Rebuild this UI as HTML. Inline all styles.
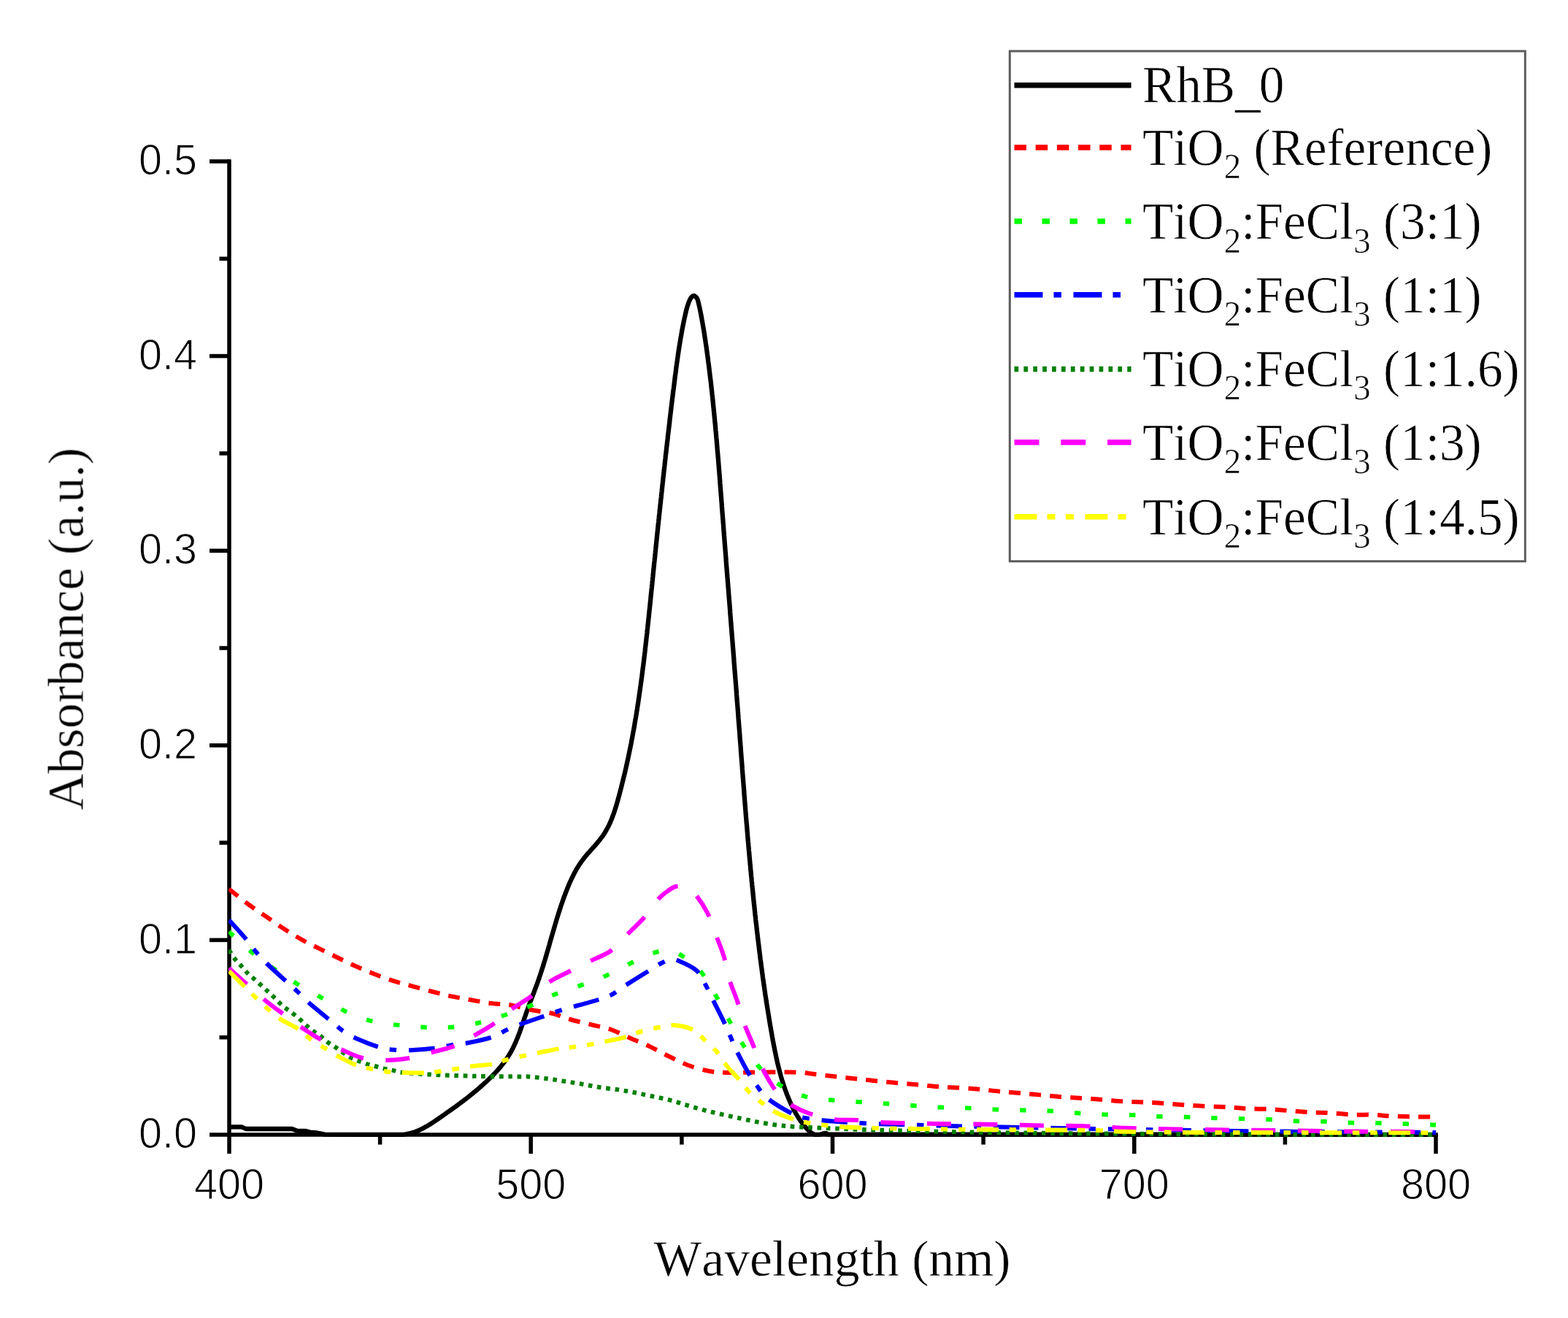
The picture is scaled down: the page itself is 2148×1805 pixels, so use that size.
<!DOCTYPE html>
<html lang="en"><head><meta charset="utf-8"><title>UV-Vis absorbance spectra</title>
<style>
html,body{margin:0;padding:0;background:#fff;}
body{width:2148px;height:1805px;overflow:hidden;}
svg{display:block;}
.sans{font-family:"Liberation Sans",Arial,Helvetica,sans-serif;}
.serif{font-family:"Liberation Serif","Times New Roman",Times,serif;font-kerning:none;}
text{font-kerning:none;text-rendering:geometricPrecision;}
</style></head><body>
<svg width="2148" height="1805" viewBox="0 0 2148 1805">
<defs><filter id="soft" x="-2%" y="-2%" width="104%" height="104%"><feGaussianBlur stdDeviation="0.75"/></filter>
<clipPath id="plot"><rect x="313.0" y="200" width="1655.5" height="1357.5"/></clipPath></defs>
<rect width="2148" height="1805" fill="#fff"/>
<g filter="url(#soft)">
<g stroke="#000" stroke-width="5.5" fill="none" stroke-linecap="butt">
<path d="M314.0,218.2 V1580.0"/>
<path d="M287.0,1554.0 H1969.8"/>
<path d="M300.5,1420.7 H314.0"/>
<path d="M287.0,1287.4 H314.0"/>
<path d="M300.5,1154.1 H314.0"/>
<path d="M287.0,1020.8 H314.0"/>
<path d="M300.5,887.5 H314.0"/>
<path d="M287.0,754.2 H314.0"/>
<path d="M300.5,620.9 H314.0"/>
<path d="M287.0,487.6 H314.0"/>
<path d="M300.5,354.3 H314.0"/>
<path d="M287.0,221.0 H314.0"/>
<path d="M520.6,1554.0 V1567.5"/>
<path d="M727.2,1554.0 V1580.0"/>
<path d="M933.9,1554.0 V1567.5"/>
<path d="M1140.5,1554.0 V1580.0"/>
<path d="M1347.1,1554.0 V1567.5"/>
<path d="M1553.8,1554.0 V1580.0"/>
<path d="M1760.4,1554.0 V1567.5"/>
<path d="M1967.0,1554.0 V1580.0"/>
</g>
<g fill="none" stroke-linejoin="round" clip-path="url(#plot)">
<path d="M314.0,1543.3 L331.0,1543.3 L337.0,1546.0 L400.0,1546.0 L407.0,1548.6 L419.0,1549.0 L425.0,1550.6 L432.0,1551.2 L445.0,1553.6 L500.0,1553.8 L548.0,1553.8 L547.9,1553.9 L550.5,1553.8 L553.0,1553.6 L555.6,1553.3 L558.0,1552.9 L560.5,1552.4 L562.9,1551.8 L565.3,1551.1 L567.6,1550.4 L570.0,1549.5 L572.2,1548.6 L574.5,1547.6 L576.7,1546.6 L579.0,1545.5 L581.2,1544.3 L583.3,1543.1 L585.5,1541.9 L587.6,1540.6 L589.8,1539.3 L591.9,1537.9 L594.0,1536.5 L596.1,1535.1 L598.2,1533.7 L600.2,1532.3 L602.3,1530.8 L604.4,1529.4 L606.4,1528.0 L608.5,1526.5 L610.6,1525.1 L612.6,1523.6 L614.7,1522.2 L616.7,1520.7 L618.7,1519.3 L620.8,1517.8 L622.8,1516.4 L624.8,1514.9 L626.8,1513.4 L628.8,1511.9 L630.8,1510.5 L632.8,1509.0 L634.8,1507.5 L636.8,1505.9 L638.8,1504.4 L640.7,1502.9 L642.7,1501.4 L644.6,1499.8 L646.6,1498.2 L648.5,1496.7 L650.4,1495.1 L652.4,1493.5 L654.3,1491.9 L656.2,1490.3 L658.0,1488.6 L659.9,1487.0 L661.8,1485.3 L663.6,1483.7 L665.5,1482.0 L667.3,1480.3 L669.1,1478.5 L670.9,1476.8 L672.7,1475.0 L674.5,1473.3 L676.2,1471.5 L678.0,1469.7 L679.7,1467.8 L681.4,1466.0 L683.0,1464.1 L684.7,1462.2 L686.3,1460.3 L687.8,1458.4 L689.4,1456.4 L690.9,1454.4 L692.3,1452.4 L693.8,1450.4 L695.1,1448.3 L696.5,1446.3 L697.8,1444.1 L699.0,1442.0 L700.3,1439.9 L701.4,1437.7 L702.6,1435.5 L703.7,1433.2 L704.7,1431.0 L705.8,1428.7 L706.8,1426.4 L707.7,1424.1 L708.7,1421.8 L709.6,1419.5 L710.5,1417.2 L711.4,1414.8 L712.3,1412.5 L713.1,1410.1 L714.0,1407.7 L714.8,1405.3 L715.6,1402.9 L716.4,1400.6 L717.2,1398.2 L718.0,1395.8 L718.8,1393.4 L719.7,1391.0 L720.5,1388.6 L721.3,1386.2 L722.1,1383.9 L723.0,1381.5 L723.8,1379.2 L724.7,1376.8 L725.6,1374.5 L726.4,1372.1 L727.3,1369.8 L728.2,1367.5 L729.1,1365.1 L730.0,1362.8 L730.9,1360.5 L731.8,1358.2 L732.6,1355.8 L733.5,1353.5 L734.4,1351.2 L735.2,1348.8 L736.1,1346.5 L736.9,1344.2 L737.7,1341.8 L738.6,1339.5 L739.4,1337.1 L740.2,1334.7 L740.9,1332.4 L741.7,1330.0 L742.5,1327.6 L743.2,1325.2 L744.0,1322.9 L744.7,1320.5 L745.4,1318.1 L746.2,1315.7 L746.9,1313.3 L747.6,1310.9 L748.3,1308.5 L749.0,1306.1 L749.7,1303.7 L750.4,1301.3 L751.1,1298.9 L751.8,1296.5 L752.5,1294.1 L753.1,1291.7 L753.8,1289.3 L754.5,1286.8 L755.2,1284.4 L755.9,1282.0 L756.6,1279.6 L757.3,1277.2 L758.0,1274.8 L758.7,1272.4 L759.4,1270.0 L760.1,1267.6 L760.8,1265.2 L761.5,1262.8 L762.2,1260.4 L762.9,1258.0 L763.7,1255.6 L764.4,1253.2 L765.2,1250.8 L765.9,1248.4 L766.7,1246.1 L767.5,1243.7 L768.2,1241.3 L769.0,1238.9 L769.9,1236.6 L770.7,1234.2 L771.5,1231.9 L772.3,1229.5 L773.2,1227.2 L774.1,1224.8 L775.0,1222.5 L775.9,1220.2 L776.8,1217.8 L777.7,1215.5 L778.7,1213.2 L779.6,1210.9 L780.6,1208.6 L781.7,1206.4 L782.7,1204.1 L783.8,1201.8 L784.9,1199.6 L786.0,1197.4 L787.1,1195.2 L788.3,1193.0 L789.5,1190.8 L790.8,1188.7 L792.1,1186.6 L793.4,1184.5 L794.8,1182.4 L796.2,1180.4 L797.7,1178.4 L799.2,1176.4 L800.7,1174.4 L802.3,1172.5 L803.9,1170.5 L805.5,1168.6 L807.2,1166.8 L808.9,1164.9 L810.6,1163.0 L812.2,1161.1 L813.9,1159.3 L815.6,1157.4 L817.2,1155.5 L818.8,1153.6 L820.4,1151.7 L822.0,1149.7 L823.5,1147.7 L825.0,1145.7 L826.4,1143.7 L827.8,1141.6 L829.1,1139.5 L830.3,1137.4 L831.5,1135.3 L832.7,1133.1 L833.8,1130.9 L834.9,1128.6 L835.9,1126.4 L836.9,1124.1 L837.8,1121.8 L838.7,1119.5 L839.6,1117.1 L840.5,1114.8 L841.3,1112.4 L842.1,1110.0 L842.9,1107.6 L843.6,1105.2 L844.4,1102.8 L845.1,1100.4 L845.8,1097.9 L846.5,1095.5 L847.1,1093.1 L847.8,1090.6 L848.5,1088.2 L849.1,1085.8 L849.7,1083.3 L850.4,1080.9 L851.0,1078.5 L851.6,1076.0 L852.2,1073.6 L852.8,1071.1 L853.4,1068.7 L854.0,1066.3 L854.6,1063.8 L855.2,1061.4 L855.8,1059.0 L856.4,1056.5 L856.9,1054.1 L857.5,1051.7 L858.0,1049.2 L858.6,1046.8 L859.1,1044.4 L859.6,1041.9 L860.2,1039.5 L860.7,1037.0 L861.2,1034.6 L861.7,1032.2 L862.2,1029.7 L862.7,1027.3 L863.2,1024.8 L863.7,1022.4 L864.2,1020.0 L864.7,1017.5 L865.1,1015.1 L865.6,1012.6 L866.1,1010.2 L866.5,1007.7 L867.0,1005.3 L867.4,1002.8 L867.9,1000.4 L868.3,997.9 L868.8,995.5 L869.2,993.0 L869.6,990.5 L870.0,988.1 L870.4,985.6 L870.9,983.2 L871.3,980.7 L871.7,978.2 L872.1,975.8 L872.5,973.3 L872.9,970.9 L873.2,968.4 L873.6,965.9 L874.0,963.5 L874.4,961.0 L874.7,958.5 L875.1,956.0 L875.5,953.6 L875.8,951.1 L876.2,948.6 L876.5,946.2 L876.9,943.7 L877.2,941.2 L877.6,938.7 L877.9,936.3 L878.3,933.8 L878.6,931.3 L878.9,928.8 L879.3,926.4 L879.6,923.9 L879.9,921.4 L880.2,918.9 L880.5,916.5 L880.8,914.0 L881.2,911.5 L881.5,909.0 L881.8,906.5 L882.1,904.1 L882.4,901.6 L882.7,899.1 L883.0,896.6 L883.3,894.1 L883.6,891.6 L883.8,889.2 L884.1,886.7 L884.4,884.2 L884.7,881.7 L885.0,879.2 L885.3,876.7 L885.5,874.2 L885.8,871.8 L886.1,869.3 L886.4,866.8 L886.6,864.3 L886.9,861.8 L887.2,859.3 L887.4,856.8 L887.7,854.3 L888.0,851.9 L888.2,849.4 L888.5,846.9 L888.8,844.4 L889.0,841.9 L889.3,839.4 L889.5,836.9 L889.8,834.4 L890.1,832.0 L890.3,829.5 L890.6,827.0 L890.8,824.5 L891.1,822.0 L891.3,819.5 L891.6,817.0 L891.8,814.5 L892.1,812.0 L892.3,809.6 L892.6,807.1 L892.9,804.6 L893.1,802.1 L893.4,799.6 L893.6,797.1 L893.9,794.6 L894.1,792.1 L894.4,789.6 L894.6,787.2 L894.9,784.7 L895.1,782.2 L895.4,779.7 L895.6,777.2 L895.9,774.7 L896.1,772.2 L896.4,769.7 L896.7,767.3 L896.9,764.8 L897.2,762.3 L897.4,759.8 L897.7,757.3 L897.9,754.8 L898.2,752.3 L898.4,749.9 L898.7,747.4 L899.0,744.9 L899.2,742.4 L899.5,739.9 L899.7,737.4 L900.0,734.9 L900.2,732.5 L900.5,730.0 L900.8,727.5 L901.0,725.0 L901.3,722.5 L901.5,720.0 L901.8,717.5 L902.1,715.1 L902.3,712.6 L902.6,710.1 L902.8,707.6 L903.1,705.1 L903.4,702.6 L903.6,700.2 L903.9,697.7 L904.2,695.2 L904.4,692.7 L904.7,690.2 L905.0,687.7 L905.2,685.2 L905.5,682.8 L905.8,680.3 L906.0,677.8 L906.3,675.3 L906.6,672.8 L906.8,670.3 L907.1,667.9 L907.4,665.4 L907.6,662.9 L907.9,660.4 L908.2,657.9 L908.4,655.5 L908.7,653.0 L909.0,650.5 L909.3,648.0 L909.5,645.5 L909.8,643.0 L910.1,640.6 L910.4,638.1 L910.6,635.6 L910.9,633.1 L911.2,630.6 L911.5,628.1 L911.7,625.7 L912.0,623.2 L912.3,620.7 L912.6,618.2 L912.9,615.7 L913.1,613.3 L913.4,610.8 L913.7,608.3 L914.0,605.8 L914.3,603.3 L914.6,600.8 L914.8,598.4 L915.1,595.9 L915.4,593.4 L915.7,590.9 L916.0,588.4 L916.3,586.0 L916.6,583.5 L916.9,581.0 L917.2,578.5 L917.4,576.0 L917.7,573.6 L918.0,571.1 L918.3,568.6 L918.6,566.1 L918.9,563.6 L919.2,561.1 L919.5,558.7 L919.8,556.2 L920.1,553.7 L920.4,551.2 L920.7,548.7 L921.0,546.3 L921.3,543.8 L921.6,541.3 L921.9,538.8 L922.2,536.3 L922.5,533.9 L922.9,531.4 L923.2,528.9 L923.5,526.4 L923.8,523.9 L924.1,521.5 L924.4,519.0 L924.7,516.5 L925.0,514.0 L925.4,511.5 L925.7,509.1 L926.0,506.6 L926.3,504.1 L926.7,501.6 L927.0,499.1 L927.3,496.7 L927.7,494.2 L928.0,491.7 L928.4,489.2 L928.7,486.8 L929.1,484.3 L929.5,481.8 L929.8,479.3 L930.2,476.9 L930.6,474.4 L931.0,471.9 L931.4,469.5 L931.8,467.0 L932.2,464.5 L932.6,462.1 L933.1,459.6 L933.5,457.2 L933.9,454.7 L934.4,452.2 L934.8,449.8 L935.3,447.3 L935.8,444.9 L936.3,442.4 L936.8,440.0 L937.3,437.5 L937.8,435.1 L938.4,432.7 L938.9,430.2 L939.5,427.8 L940.0,425.4 L940.7,422.9 L941.3,420.5 L942.1,418.2 L942.9,415.8 L943.7,413.5 L944.7,411.2 L945.9,408.9 L947.5,406.7 L949.4,405.1 L951.4,405.1 L953.4,406.7 L955.0,408.9 L956.0,411.3 L956.6,413.7 L957.2,416.1 L957.7,418.5 L958.3,421.0 L958.8,423.4 L959.3,425.8 L959.8,428.3 L960.3,430.7 L960.7,433.2 L961.2,435.6 L961.6,438.1 L962.1,440.6 L962.5,443.0 L962.9,445.5 L963.4,448.0 L963.8,450.4 L964.2,452.9 L964.6,455.4 L965.0,457.8 L965.3,460.3 L965.7,462.8 L966.1,465.2 L966.5,467.7 L966.8,470.2 L967.2,472.6 L967.6,475.1 L967.9,477.6 L968.2,480.1 L968.6,482.5 L968.9,485.0 L969.3,487.5 L969.6,490.0 L969.9,492.5 L970.2,494.9 L970.6,497.4 L970.9,499.9 L971.2,502.4 L971.5,504.8 L971.8,507.3 L972.1,509.8 L972.4,512.3 L972.7,514.8 L973.0,517.3 L973.3,519.7 L973.6,522.2 L973.9,524.7 L974.2,527.2 L974.4,529.7 L974.7,532.1 L975.0,534.6 L975.3,537.1 L975.5,539.6 L975.8,542.1 L976.1,544.6 L976.3,547.0 L976.6,549.5 L976.8,552.0 L977.1,554.5 L977.3,557.0 L977.6,559.5 L977.8,562.0 L978.1,564.4 L978.3,566.9 L978.6,569.4 L978.8,571.9 L979.1,574.4 L979.3,576.9 L979.5,579.4 L979.8,581.9 L980.0,584.3 L980.2,586.8 L980.4,589.3 L980.7,591.8 L980.9,594.3 L981.1,596.8 L981.3,599.3 L981.6,601.8 L981.8,604.2 L982.0,606.7 L982.2,609.2 L982.4,611.7 L982.6,614.2 L982.8,616.7 L983.0,619.2 L983.3,621.7 L983.5,624.2 L983.7,626.7 L983.9,629.1 L984.1,631.6 L984.3,634.1 L984.5,636.6 L984.7,639.1 L984.9,641.6 L985.1,644.1 L985.3,646.6 L985.5,649.1 L985.7,651.6 L985.9,654.1 L986.1,656.6 L986.3,659.0 L986.4,661.5 L986.6,664.0 L986.8,666.5 L987.0,669.0 L987.2,671.5 L987.4,674.0 L987.6,676.5 L987.8,679.0 L988.0,681.5 L988.2,684.0 L988.4,686.5 L988.6,688.9 L988.8,691.4 L988.9,693.9 L989.1,696.4 L989.3,698.9 L989.5,701.4 L989.7,703.9 L989.9,706.4 L990.1,708.9 L990.3,711.4 L990.5,713.9 L990.7,716.4 L990.9,718.8 L991.1,721.3 L991.2,723.8 L991.4,726.3 L991.6,728.8 L991.8,731.3 L992.0,733.8 L992.2,736.3 L992.4,738.8 L992.6,741.3 L992.8,743.8 L993.0,746.3 L993.2,748.7 L993.4,751.2 L993.6,753.7 L993.8,756.2 L994.0,758.7 L994.2,761.2 L994.4,763.7 L994.6,766.2 L994.7,768.7 L994.9,771.2 L995.1,773.7 L995.3,776.2 L995.5,778.6 L995.7,781.1 L995.9,783.6 L996.1,786.1 L996.3,788.6 L996.5,791.1 L996.7,793.6 L996.9,796.1 L997.1,798.6 L997.3,801.1 L997.5,803.6 L997.7,806.0 L997.9,808.5 L998.1,811.0 L998.3,813.5 L998.5,816.0 L998.7,818.5 L998.9,821.0 L999.1,823.5 L999.3,826.0 L999.5,828.5 L999.7,831.0 L999.9,833.4 L1000.1,835.9 L1000.2,838.4 L1000.4,840.9 L1000.6,843.4 L1000.8,845.9 L1001.0,848.4 L1001.2,850.9 L1001.4,853.4 L1001.6,855.9 L1001.8,858.4 L1002.0,860.9 L1002.2,863.3 L1002.4,865.8 L1002.6,868.3 L1002.8,870.8 L1003.0,873.3 L1003.2,875.8 L1003.4,878.3 L1003.6,880.8 L1003.8,883.3 L1004.0,885.8 L1004.2,888.3 L1004.4,890.7 L1004.6,893.2 L1004.8,895.7 L1005.0,898.2 L1005.2,900.7 L1005.4,903.2 L1005.5,905.7 L1005.7,908.2 L1005.9,910.7 L1006.1,913.2 L1006.3,915.7 L1006.5,918.1 L1006.7,920.6 L1006.9,923.1 L1007.1,925.6 L1007.3,928.1 L1007.5,930.6 L1007.7,933.1 L1007.9,935.6 L1008.1,938.1 L1008.3,940.6 L1008.5,943.1 L1008.7,945.6 L1008.9,948.0 L1009.0,950.5 L1009.2,953.0 L1009.4,955.5 L1009.6,958.0 L1009.8,960.5 L1010.0,963.0 L1010.2,965.5 L1010.4,968.0 L1010.6,970.5 L1010.8,973.0 L1011.0,975.5 L1011.2,977.9 L1011.4,980.4 L1011.5,982.9 L1011.7,985.4 L1011.9,987.9 L1012.1,990.4 L1012.3,992.9 L1012.5,995.4 L1012.7,997.9 L1012.9,1000.4 L1013.1,1002.9 L1013.3,1005.4 L1013.4,1007.8 L1013.6,1010.3 L1013.8,1012.8 L1014.0,1015.3 L1014.2,1017.8 L1014.4,1020.3 L1014.6,1022.8 L1014.8,1025.3 L1014.9,1027.8 L1015.1,1030.3 L1015.3,1032.8 L1015.5,1035.3 L1015.7,1037.8 L1015.9,1040.2 L1016.1,1042.7 L1016.3,1045.2 L1016.5,1047.7 L1016.7,1050.2 L1016.8,1052.7 L1017.0,1055.2 L1017.2,1057.7 L1017.4,1060.2 L1017.6,1062.7 L1017.8,1065.2 L1018.0,1067.7 L1018.2,1070.2 L1018.4,1072.6 L1018.6,1075.1 L1018.8,1077.6 L1019.0,1080.1 L1019.2,1082.6 L1019.3,1085.1 L1019.5,1087.6 L1019.7,1090.1 L1019.9,1092.6 L1020.1,1095.1 L1020.3,1097.6 L1020.5,1100.0 L1020.7,1102.5 L1020.9,1105.0 L1021.1,1107.5 L1021.3,1110.0 L1021.5,1112.5 L1021.7,1115.0 L1021.9,1117.5 L1022.1,1120.0 L1022.3,1122.5 L1022.5,1125.0 L1022.7,1127.4 L1023.0,1129.9 L1023.2,1132.4 L1023.4,1134.9 L1023.6,1137.4 L1023.8,1139.9 L1024.0,1142.4 L1024.2,1144.9 L1024.4,1147.4 L1024.6,1149.9 L1024.8,1152.3 L1025.1,1154.8 L1025.3,1157.3 L1025.5,1159.8 L1025.7,1162.3 L1025.9,1164.8 L1026.2,1167.3 L1026.4,1169.8 L1026.6,1172.3 L1026.8,1174.8 L1027.0,1177.2 L1027.3,1179.7 L1027.5,1182.2 L1027.7,1184.7 L1028.0,1187.2 L1028.2,1189.7 L1028.4,1192.2 L1028.7,1194.7 L1028.9,1197.1 L1029.1,1199.6 L1029.4,1202.1 L1029.6,1204.6 L1029.8,1207.1 L1030.1,1209.6 L1030.3,1212.1 L1030.6,1214.6 L1030.8,1217.0 L1031.1,1219.5 L1031.3,1222.0 L1031.6,1224.5 L1031.8,1227.0 L1032.1,1229.5 L1032.3,1232.0 L1032.6,1234.4 L1032.8,1236.9 L1033.1,1239.4 L1033.4,1241.9 L1033.6,1244.4 L1033.9,1246.9 L1034.2,1249.4 L1034.4,1251.8 L1034.7,1254.3 L1035.0,1256.8 L1035.2,1259.3 L1035.5,1261.8 L1035.8,1264.3 L1036.1,1266.7 L1036.4,1269.2 L1036.6,1271.7 L1036.9,1274.2 L1037.2,1276.7 L1037.5,1279.2 L1037.8,1281.6 L1038.1,1284.1 L1038.4,1286.6 L1038.7,1289.1 L1039.0,1291.6 L1039.3,1294.0 L1039.6,1296.5 L1039.9,1299.0 L1040.2,1301.5 L1040.5,1304.0 L1040.8,1306.4 L1041.1,1308.9 L1041.4,1311.4 L1041.7,1313.9 L1042.1,1316.4 L1042.4,1318.8 L1042.7,1321.3 L1043.0,1323.8 L1043.4,1326.3 L1043.7,1328.7 L1044.0,1331.2 L1044.4,1333.7 L1044.7,1336.2 L1045.0,1338.7 L1045.4,1341.1 L1045.7,1343.6 L1046.1,1346.1 L1046.4,1348.6 L1046.8,1351.0 L1047.2,1353.5 L1047.5,1356.0 L1047.9,1358.5 L1048.2,1360.9 L1048.6,1363.4 L1049.0,1365.9 L1049.4,1368.3 L1049.7,1370.8 L1050.1,1373.3 L1050.5,1375.7 L1050.9,1378.2 L1051.3,1380.7 L1051.7,1383.2 L1052.1,1385.6 L1052.5,1388.1 L1052.9,1390.6 L1053.3,1393.0 L1053.7,1395.5 L1054.1,1398.0 L1054.5,1400.4 L1054.9,1402.9 L1055.3,1405.4 L1055.8,1407.8 L1056.2,1410.3 L1056.6,1412.7 L1057.1,1415.2 L1057.5,1417.7 L1057.9,1420.1 L1058.4,1422.6 L1058.8,1425.1 L1059.3,1427.5 L1059.7,1430.0 L1060.2,1432.4 L1060.7,1434.9 L1061.2,1437.3 L1061.7,1439.8 L1062.2,1442.2 L1062.7,1444.7 L1063.2,1447.1 L1063.7,1449.6 L1064.3,1452.0 L1064.8,1454.4 L1065.4,1456.9 L1066.0,1459.3 L1066.5,1461.7 L1067.2,1464.1 L1067.8,1466.5 L1068.4,1468.9 L1069.1,1471.4 L1069.7,1473.8 L1070.4,1476.2 L1071.1,1478.5 L1071.9,1480.9 L1072.6,1483.3 L1073.4,1485.7 L1074.2,1488.0 L1075.0,1490.4 L1075.8,1492.8 L1076.7,1495.1 L1077.5,1497.5 L1078.4,1499.8 L1079.4,1502.1 L1080.3,1504.4 L1081.3,1506.8 L1082.3,1509.1 L1083.3,1511.4 L1084.4,1513.6 L1085.5,1515.9 L1086.6,1518.2 L1087.8,1520.4 L1089.0,1522.6 L1090.2,1524.8 L1091.5,1527.0 L1092.8,1529.1 L1094.1,1531.2 L1095.5,1533.3 L1096.9,1535.4 L1098.4,1537.4 L1099.9,1539.3 L1101.5,1541.3 L1103.1,1543.2 L1104.7,1545.1 L1106.4,1546.9 L1108.2,1548.6 L1110.0,1550.3 L1111.9,1551.8 L1114.0,1553.0 L1116.2,1553.9 L1118.7,1553.9 L1121.3,1553.9 L1124.2,1553.5 L1127.2,1552.6 L1130.0,1552.0 L1132.4,1552.2 L1134.0,1553.7 L1967.0,1553.8" stroke="#000" stroke-width="6.3"/>
<path d="M313.7,1217.5 C318.2,1221.1 332.4,1232.7 341.0,1239.0 C349.6,1245.3 357.0,1250.1 365.0,1255.6 C373.0,1261.1 381.0,1266.8 389.0,1272.0 C397.0,1277.2 404.8,1282.0 413.0,1286.6 C421.2,1291.2 429.6,1295.2 438.0,1299.4 C446.4,1303.6 455.3,1308.0 463.6,1312.0 C471.9,1316.0 479.8,1319.9 488.0,1323.6 C496.2,1327.3 504.5,1330.7 513.0,1334.0 C521.5,1337.3 530.5,1340.7 539.0,1343.4 C547.5,1346.1 555.2,1348.0 564.0,1350.4 C572.8,1352.8 583.0,1355.7 592.0,1358.0 C601.0,1360.3 609.5,1362.6 618.0,1364.4 C626.5,1366.2 634.0,1367.4 643.0,1369.0 C652.0,1370.6 662.5,1372.8 672.0,1374.0 C681.5,1375.2 690.3,1374.9 700.0,1376.5 C709.7,1378.1 720.5,1381.6 730.0,1383.5 C739.5,1385.4 748.5,1385.9 757.0,1388.0 C765.5,1390.1 772.3,1393.5 781.0,1396.0 C789.7,1398.5 799.7,1400.7 809.0,1403.0 C818.3,1405.3 827.8,1406.8 837.0,1410.0 C846.2,1413.2 855.0,1418.1 864.0,1422.0 C873.0,1425.9 882.2,1429.4 891.0,1433.6 C899.8,1437.8 908.3,1442.8 917.0,1447.0 C925.7,1451.2 933.8,1455.7 943.0,1459.0 C952.2,1462.3 962.8,1465.3 972.0,1467.0 C981.2,1468.7 988.3,1468.7 998.0,1469.0 C1007.7,1469.3 1014.9,1468.7 1030.0,1468.6 C1045.1,1468.5 1074.2,1468.0 1088.8,1468.4 C1103.3,1468.8 1107.8,1470.2 1117.3,1471.2 C1126.8,1472.2 1136.4,1473.5 1145.7,1474.5 C1155.0,1475.5 1163.8,1476.4 1173.1,1477.4 C1182.3,1478.4 1191.7,1479.4 1201.2,1480.4 C1210.7,1481.4 1220.5,1482.5 1230.1,1483.3 C1239.7,1484.1 1249.3,1484.7 1258.6,1485.5 C1267.9,1486.3 1276.5,1487.6 1286.0,1488.3 C1295.5,1489.0 1305.9,1489.3 1315.6,1489.9 C1325.3,1490.5 1335.1,1491.2 1344.1,1492.0 C1353.1,1492.8 1360.8,1493.9 1369.7,1494.7 C1378.7,1495.5 1388.3,1496.3 1397.8,1497.1 C1407.3,1497.9 1417.2,1498.8 1426.9,1499.7 C1436.6,1500.6 1446.2,1501.6 1455.8,1502.3 C1465.4,1503.0 1474.8,1503.4 1484.3,1504.1 C1493.8,1504.8 1503.4,1505.6 1512.8,1506.3 C1522.2,1507.0 1531.6,1508.0 1540.8,1508.5 C1550.0,1509.0 1558.5,1509.2 1567.8,1509.6 C1577.1,1510.0 1587.1,1510.4 1596.7,1511.1 C1606.3,1511.8 1615.5,1512.8 1625.2,1513.5 C1634.9,1514.2 1645.1,1514.6 1654.8,1515.1 C1664.5,1515.5 1674.3,1515.7 1683.3,1516.2 C1692.3,1516.7 1699.7,1517.8 1708.9,1518.3 C1718.1,1518.8 1729.1,1518.5 1738.7,1519.0 C1748.3,1519.5 1757.1,1520.5 1766.5,1521.2 C1775.9,1521.9 1785.6,1522.7 1795.0,1523.2 C1804.4,1523.7 1813.5,1523.8 1823.1,1524.3 C1832.7,1524.8 1843.0,1526.1 1852.7,1526.5 C1862.5,1526.9 1872.6,1526.4 1881.6,1526.7 C1890.6,1527.0 1897.6,1528.2 1906.8,1528.6 C1916.0,1529.0 1927.0,1529.1 1937.0,1529.3 C1947.0,1529.5 1962.0,1529.5 1967.0,1529.5" stroke="#f00" stroke-width="6.0" stroke-dasharray="15.9 12.2"/>
<path d="M313.7,1276.0 C319.1,1280.8 335.4,1296.3 346.0,1305.0 C356.6,1313.7 366.7,1320.8 377.0,1328.0 C387.3,1335.2 396.8,1341.3 408.0,1348.0 C419.2,1354.7 432.7,1362.0 444.0,1368.4 C455.3,1374.8 465.2,1381.4 476.0,1386.4 C486.8,1391.4 497.2,1395.5 509.0,1398.4 C520.8,1401.3 534.3,1402.6 547.0,1404.0 C559.7,1405.4 572.5,1406.6 585.0,1407.0 C597.5,1407.4 609.7,1407.6 622.0,1406.4 C634.3,1405.2 647.3,1402.7 659.0,1400.0 C670.7,1397.3 681.0,1393.7 692.0,1390.0 C703.0,1386.3 714.2,1382.5 725.0,1378.0 C735.8,1373.5 746.2,1367.4 757.0,1363.0 C767.8,1358.6 778.8,1355.4 790.0,1351.4 C801.2,1347.4 812.8,1343.8 824.0,1339.0 C835.2,1334.2 846.0,1327.9 857.0,1322.6 C868.0,1317.3 881.2,1310.4 890.0,1307.0 C898.8,1303.6 903.8,1302.4 910.0,1302.0 C916.2,1301.6 919.2,1300.4 927.0,1304.6 C934.8,1308.8 948.5,1317.9 957.0,1327.0 C965.5,1336.1 971.3,1347.8 978.0,1359.0 C984.7,1370.2 990.7,1382.7 997.0,1394.0 C1003.3,1405.3 1008.9,1416.3 1015.6,1427.0 C1022.3,1437.7 1028.6,1448.4 1037.0,1458.0 C1045.4,1467.6 1055.7,1477.3 1066.0,1484.4 C1076.3,1491.5 1086.9,1496.8 1098.6,1500.4 C1110.3,1504.1 1123.7,1504.9 1136.3,1506.3 C1148.9,1507.7 1161.7,1508.1 1174.2,1508.9 C1186.7,1509.7 1198.9,1510.5 1211.5,1511.3 C1224.1,1512.1 1237.1,1513.1 1249.8,1514.0 C1262.5,1514.9 1275.1,1516.0 1287.8,1516.6 C1300.5,1517.2 1313.2,1517.0 1325.9,1517.5 C1338.6,1518.0 1351.1,1518.9 1363.8,1519.4 C1376.5,1519.9 1389.6,1520.1 1402.2,1520.5 C1414.8,1520.9 1426.8,1520.9 1439.4,1521.6 C1452.0,1522.3 1465.2,1523.7 1477.8,1524.5 C1490.4,1525.3 1502.5,1526.1 1515.0,1526.5 C1527.5,1526.9 1541.1,1526.7 1552.9,1527.1 C1564.7,1527.5 1573.9,1528.5 1585.7,1528.9 C1597.5,1529.3 1611.5,1529.4 1623.7,1529.7 C1636.0,1530.0 1647.0,1530.6 1659.2,1531.0 C1671.4,1531.4 1684.3,1531.8 1697.1,1532.1 C1709.9,1532.4 1723.2,1532.5 1735.9,1533.0 C1748.6,1533.5 1760.6,1534.7 1773.1,1535.2 C1785.6,1535.7 1798.3,1535.4 1811.0,1535.8 C1823.7,1536.2 1836.6,1537.1 1849.4,1537.5 C1862.2,1537.9 1875.0,1537.8 1887.7,1538.1 C1900.4,1538.3 1912.2,1538.6 1925.4,1539.0 C1938.6,1539.4 1960.1,1540.4 1967.0,1540.7" stroke="#0f0" stroke-width="6.0" stroke-dasharray="8.5 29"/>
<path d="M313.7,1260.0 C317.6,1264.3 330.8,1278.7 337.0,1286.0 C343.2,1293.3 346.2,1298.3 351.0,1304.0 C355.8,1309.7 359.2,1313.3 366.0,1320.0 C372.8,1326.7 385.0,1337.6 392.0,1344.0 C399.0,1350.4 402.7,1353.4 408.0,1358.4 C413.3,1363.4 416.5,1367.4 424.0,1374.0 C431.5,1380.6 445.3,1391.7 453.0,1398.0 C460.7,1404.3 463.8,1407.8 470.0,1412.0 C476.2,1416.2 481.3,1419.2 490.0,1423.0 C498.7,1426.8 513.2,1432.5 522.0,1435.0 C530.8,1437.5 535.7,1437.5 543.0,1438.0 C550.3,1438.5 556.5,1438.5 566.0,1438.0 C575.5,1437.5 590.3,1436.3 600.0,1435.0 C609.7,1433.7 617.0,1431.2 624.0,1430.0 C631.0,1428.8 633.5,1429.7 642.0,1428.0 C650.5,1426.3 666.2,1423.0 675.0,1420.0 C683.8,1417.0 687.8,1413.2 695.0,1410.0 C702.2,1406.8 708.8,1404.3 718.0,1401.0 C727.2,1397.7 741.3,1393.0 750.0,1390.0 C758.7,1387.0 763.7,1385.0 770.0,1383.0 C776.3,1381.0 779.7,1380.3 788.0,1378.0 C796.3,1375.7 811.7,1371.6 820.0,1369.0 C828.3,1366.4 831.6,1365.6 837.6,1362.4 C843.6,1359.2 847.6,1355.4 856.0,1350.0 C864.4,1344.6 879.7,1335.2 888.0,1330.0 C896.3,1324.8 901.0,1321.7 906.0,1319.0 C911.0,1316.3 914.0,1314.5 918.0,1314.0 C922.0,1313.5 924.0,1313.5 930.0,1316.0 C936.0,1318.5 948.1,1323.8 954.0,1329.0 C959.9,1334.2 961.9,1340.5 965.6,1347.0 C969.3,1353.5 971.6,1359.2 976.0,1368.0 C980.4,1376.8 987.9,1391.5 992.0,1400.0 C996.1,1408.5 997.6,1412.5 1000.4,1419.0 C1003.2,1425.5 1004.9,1430.7 1009.0,1439.0 C1013.1,1447.3 1020.3,1461.0 1025.0,1469.0 C1029.7,1477.0 1032.7,1481.2 1037.0,1487.0 C1041.3,1492.8 1043.3,1497.8 1051.0,1504.0 C1058.7,1510.2 1074.5,1519.5 1083.0,1524.0 C1091.5,1528.5 1092.5,1529.1 1102.0,1531.0 C1111.5,1532.9 1123.7,1534.2 1140.0,1535.5 C1156.3,1536.8 1173.3,1537.9 1200.0,1539.0 C1226.7,1540.1 1266.7,1541.2 1300.0,1542.0 C1333.3,1542.8 1366.7,1543.3 1400.0,1544.0 C1433.3,1544.7 1466.7,1545.4 1500.0,1546.0 C1533.3,1546.6 1566.7,1547.0 1600.0,1547.5 C1633.3,1548.0 1666.7,1548.6 1700.0,1549.0 C1733.3,1549.4 1766.7,1549.8 1800.0,1550.0 C1833.3,1550.2 1872.2,1550.3 1900.0,1550.5 C1927.8,1550.7 1955.8,1550.9 1967.0,1551.0" stroke="#00f" stroke-width="6.0" stroke-dasharray="35.5 16.5 9.5 17"/>
<path d="M313.7,1301.0 C315.1,1303.1 319.1,1309.9 322.0,1313.6 C324.9,1317.3 328.0,1320.1 331.0,1323.4 C334.0,1326.7 336.9,1330.5 340.0,1333.6 C343.1,1336.7 346.3,1339.0 349.6,1342.0 C352.9,1345.0 356.7,1348.4 360.0,1351.4 C363.3,1354.4 366.3,1357.1 369.4,1360.0 C372.5,1362.9 375.6,1366.0 378.6,1369.0 C381.6,1372.0 384.5,1375.3 387.6,1378.0 C390.7,1380.7 394.0,1382.4 397.4,1385.0 C400.8,1387.6 404.6,1390.5 408.0,1393.4 C411.4,1396.3 414.4,1399.5 417.6,1402.4 C420.8,1405.3 423.6,1408.0 427.0,1410.6 C430.4,1413.2 434.6,1415.4 438.0,1418.0 C441.4,1420.6 444.2,1423.8 447.6,1426.4 C451.0,1429.0 455.0,1431.2 458.6,1433.6 C462.2,1436.0 465.4,1438.6 469.0,1441.0 C472.6,1443.4 476.5,1446.1 480.0,1448.0 C483.5,1449.9 486.4,1450.9 490.0,1452.4 C493.6,1453.9 497.7,1455.7 501.6,1457.0 C505.5,1458.3 509.6,1458.9 513.6,1460.0 C517.6,1461.1 521.6,1462.5 525.6,1463.4 C529.6,1464.3 533.7,1464.8 537.6,1465.6 C541.5,1466.4 540.8,1467.4 549.0,1468.4 C557.2,1469.4 570.0,1470.5 587.0,1471.4 C604.0,1472.3 630.2,1473.3 651.0,1473.8 C671.8,1474.3 699.4,1474.3 711.6,1474.4 C723.8,1474.5 717.9,1474.1 724.0,1474.5 C730.1,1474.9 740.0,1476.0 748.0,1477.0 C756.0,1478.0 763.8,1479.3 772.0,1480.6 C780.2,1481.9 788.8,1483.2 797.0,1484.6 C805.2,1486.0 812.7,1487.7 821.0,1489.0 C829.3,1490.3 839.2,1491.2 847.0,1492.4 C854.8,1493.6 860.5,1494.6 868.0,1496.0 C875.5,1497.4 883.8,1499.3 892.0,1501.0 C900.2,1502.7 908.8,1504.3 917.0,1506.4 C925.2,1508.5 933.0,1511.3 941.0,1513.6 C949.0,1515.9 956.8,1518.3 965.0,1520.4 C973.2,1522.5 981.5,1524.5 990.0,1526.4 C998.5,1528.3 1007.7,1530.2 1016.0,1532.0 C1024.3,1533.8 1031.7,1535.5 1040.0,1537.0 C1048.3,1538.5 1057.7,1540.0 1066.0,1541.0 C1074.3,1542.0 1081.3,1542.4 1090.0,1543.0 C1098.7,1543.6 1099.7,1543.8 1118.0,1544.5 C1136.3,1545.2 1169.7,1546.6 1200.0,1547.5 C1230.3,1548.4 1266.7,1549.3 1300.0,1550.0 C1333.3,1550.7 1366.7,1551.1 1400.0,1551.5 C1433.3,1551.9 1450.0,1552.2 1500.0,1552.5 C1550.0,1552.8 1622.2,1553.2 1700.0,1553.5 C1777.8,1553.8 1922.5,1553.9 1967.0,1554.0" stroke="#008000" stroke-width="6.0" stroke-dasharray="5.6 6.7"/>
<path d="M313.7,1326.0 C317.4,1329.3 327.9,1338.8 336.0,1346.0 C344.1,1353.2 353.5,1362.0 362.0,1369.0 C370.5,1376.0 378.5,1381.7 387.0,1388.0 C395.5,1394.3 404.2,1401.0 413.0,1407.0 C421.8,1413.0 430.7,1418.8 440.0,1424.0 C449.3,1429.2 459.5,1433.8 469.0,1438.0 C478.5,1442.2 487.0,1446.7 497.0,1449.0 C507.0,1451.3 518.3,1452.0 529.0,1452.0 C539.7,1452.0 550.5,1450.8 561.0,1449.0 C571.5,1447.2 581.5,1443.8 592.0,1441.0 C602.5,1438.2 614.7,1435.7 624.0,1432.0 C633.3,1428.3 639.5,1423.8 648.0,1419.0 C656.5,1414.2 666.2,1409.2 675.0,1403.0 C683.8,1396.8 692.3,1388.3 701.0,1382.0 C709.7,1375.7 718.5,1371.2 727.0,1365.0 C735.5,1358.8 742.7,1351.0 752.0,1345.0 C761.3,1339.0 773.5,1333.8 783.0,1329.0 C792.5,1324.2 800.0,1320.5 809.0,1316.0 C818.0,1311.5 828.5,1308.2 837.0,1302.0 C845.5,1295.8 852.5,1286.5 860.0,1279.0 C867.5,1271.5 875.2,1264.8 882.0,1257.0 C888.8,1249.2 895.5,1238.2 901.0,1232.0 C906.5,1225.8 910.8,1223.0 915.0,1220.0 C919.2,1217.0 922.2,1214.8 926.0,1214.0 C929.8,1213.2 933.8,1213.5 938.0,1215.0 C942.2,1216.5 945.8,1217.2 951.0,1223.0 C956.2,1228.8 964.0,1240.3 969.0,1250.0 C974.0,1259.7 977.2,1270.8 981.0,1281.0 C984.8,1291.2 989.0,1301.0 992.0,1311.0 C995.0,1321.0 996.0,1331.0 999.0,1341.0 C1002.0,1351.0 1006.6,1360.8 1010.0,1371.0 C1013.4,1381.2 1016.0,1392.0 1019.6,1402.0 C1023.2,1412.0 1027.5,1421.0 1031.6,1431.0 C1035.7,1441.0 1039.6,1452.7 1044.0,1462.0 C1048.4,1471.3 1053.7,1480.3 1058.0,1487.0 C1062.3,1493.7 1065.8,1497.7 1070.0,1502.0 C1074.2,1506.3 1076.5,1509.2 1083.0,1513.0 C1089.5,1516.8 1099.3,1521.7 1109.0,1525.0 C1118.7,1528.3 1130.2,1531.5 1141.0,1533.0 C1151.8,1534.5 1163.3,1533.3 1174.0,1534.0 C1184.7,1534.7 1194.3,1536.3 1205.0,1537.0 C1215.7,1537.7 1222.2,1537.6 1238.0,1538.0 C1253.8,1538.4 1278.8,1538.9 1300.0,1539.2 C1321.2,1539.5 1343.7,1539.6 1365.0,1540.0 C1386.3,1540.4 1406.8,1541.0 1428.0,1541.4 C1449.2,1541.8 1471.7,1541.8 1492.0,1542.4 C1512.3,1543.0 1523.7,1544.2 1550.0,1545.0 C1576.3,1545.8 1616.7,1546.5 1650.0,1547.0 C1683.3,1547.5 1716.7,1547.6 1750.0,1548.0 C1783.3,1548.4 1813.8,1549.2 1850.0,1549.5 C1886.2,1549.8 1947.5,1549.9 1967.0,1550.0" stroke="#f0f" stroke-width="6.0" stroke-dasharray="33 30.5"/>
<path d="M313.7,1330.0 C316.9,1333.2 327.4,1343.5 333.0,1349.0 C338.6,1354.5 341.7,1357.8 347.0,1363.0 C352.3,1368.2 359.0,1374.7 365.0,1380.0 C371.0,1385.3 375.8,1390.2 383.0,1395.0 C390.2,1399.8 401.2,1404.5 408.0,1409.0 C414.8,1413.5 417.7,1417.5 424.0,1422.0 C430.3,1426.5 439.3,1431.8 446.0,1436.0 C452.7,1440.2 456.8,1443.2 464.0,1447.0 C471.2,1450.8 481.3,1456.2 489.0,1459.0 C496.7,1461.8 502.5,1462.5 510.0,1464.0 C517.5,1465.5 526.3,1467.2 534.0,1468.0 C541.7,1468.8 547.3,1468.8 556.0,1469.0 C564.7,1469.2 577.8,1469.3 586.0,1469.0 C594.2,1468.7 597.7,1468.0 605.0,1467.0 C612.3,1466.0 622.7,1464.2 630.0,1463.0 C637.3,1461.8 641.3,1461.0 649.0,1460.0 C656.7,1459.0 668.3,1458.5 676.0,1457.0 C683.7,1455.5 688.2,1452.8 695.0,1451.0 C701.8,1449.2 710.0,1447.5 717.0,1446.0 C724.0,1444.5 728.8,1443.7 737.0,1442.0 C745.2,1440.3 757.7,1437.4 766.0,1436.0 C774.3,1434.6 779.5,1434.6 787.0,1433.6 C794.5,1432.6 803.3,1431.3 811.0,1430.0 C818.7,1428.7 825.2,1427.3 833.0,1425.6 C840.8,1423.9 850.7,1422.1 858.0,1420.0 C865.3,1417.9 869.6,1415.2 877.0,1413.0 C884.4,1410.8 894.7,1408.5 902.4,1407.0 C910.1,1405.5 915.2,1403.5 923.0,1404.0 C930.8,1404.5 942.2,1406.8 949.0,1410.0 C955.8,1413.2 958.6,1418.0 964.0,1423.0 C969.4,1428.0 976.4,1434.0 981.6,1440.0 C986.8,1446.0 989.8,1452.5 995.0,1459.0 C1000.2,1465.5 1007.8,1473.0 1013.0,1479.0 C1018.2,1485.0 1020.5,1489.5 1026.0,1495.0 C1031.5,1500.5 1039.7,1507.2 1046.0,1512.0 C1052.3,1516.8 1057.0,1520.5 1064.0,1524.0 C1071.0,1527.5 1080.5,1530.7 1088.0,1533.0 C1095.5,1535.3 1098.7,1536.3 1109.0,1538.0 C1119.3,1539.7 1134.8,1541.8 1150.0,1543.0 C1165.2,1544.2 1175.0,1544.4 1200.0,1545.0 C1225.0,1545.6 1266.7,1546.1 1300.0,1546.5 C1333.3,1546.9 1366.7,1547.0 1400.0,1547.2 C1433.3,1547.5 1476.7,1547.6 1500.0,1548.0 C1523.3,1548.4 1523.3,1549.4 1540.0,1549.8 C1556.7,1550.2 1573.3,1550.4 1600.0,1550.6 C1626.7,1550.8 1638.8,1550.9 1700.0,1551.0 C1761.2,1551.1 1922.5,1551.3 1967.0,1551.4" stroke="#ff0" stroke-width="6.0" stroke-dasharray="30 14.5 9.5 15 9.5 15.5"/>
</g>
<g class="sans" font-size="57.6" fill="#000" stroke="#fff" stroke-width="1.1">
<text transform="translate(270,1572.2) scale(1,1.03)" text-anchor="end">0.0</text>
<text transform="translate(270,1305.6) scale(1,1.03)" text-anchor="end">0.1</text>
<text transform="translate(270,1039.0) scale(1,1.03)" text-anchor="end">0.2</text>
<text transform="translate(270,772.4) scale(1,1.03)" text-anchor="end">0.3</text>
<text transform="translate(270,505.8) scale(1,1.03)" text-anchor="end">0.4</text>
<text transform="translate(270,239.2) scale(1,1.03)" text-anchor="end">0.5</text>
<text transform="translate(314.0,1642.2) scale(1,1.03)" text-anchor="middle">400</text>
<text transform="translate(727.2,1642.2) scale(1,1.03)" text-anchor="middle">500</text>
<text transform="translate(1140.5,1642.2) scale(1,1.03)" text-anchor="middle">600</text>
<text transform="translate(1553.8,1642.2) scale(1,1.03)" text-anchor="middle">700</text>
<text transform="translate(1967.0,1642.2) scale(1,1.03)" text-anchor="middle">800</text>
</g>
<g class="serif" font-size="69.6" fill="#000" stroke="#fff" stroke-width="0.6">
<text transform="translate(1140,1747) scale(1,1.0)" text-anchor="middle">Wavelength (nm)</text>
<text transform="translate(113.7,861.5) rotate(-90) scale(1,1.0)" text-anchor="middle">Absorbance (a.u.)</text>
</g>
<rect x="1383.3" y="70" width="706.0000000000002" height="698.7" fill="#fff" stroke="#5c5c5c" stroke-width="3"/>
<g fill="none">
<path d="M1389.5,116.7 H1549.6" stroke="#000" stroke-width="7.5"/>
<path d="M1389.5,202 H1549.6" stroke="#f00" stroke-width="7.5" stroke-dasharray="16.5 12.7"/>
<path d="M1389.5,303 H1549.6" stroke="#0f0" stroke-width="7.5" stroke-dasharray="10.5 27.5"/>
<path d="M1389.5,403.8 H1535" stroke="#00f" stroke-width="7.5" stroke-dasharray="39 15 10.5 16.5"/>
<path d="M1389.5,505.4 H1549.6" stroke="#008000" stroke-width="7.5" stroke-dasharray="5.7 7.2"/>
<path d="M1389.5,605.8 H1549.6" stroke="#f0f" stroke-width="7.5" stroke-dasharray="34 29.8"/>
<path d="M1389.5,707.7 H1545" stroke="#ff0" stroke-width="7.5" stroke-dasharray="31 14 11 14.5 11 15.5"/>
</g>
<g class="serif" font-size="69.3" fill="#000" stroke="#fff" stroke-width="0.6">
<text transform="translate(1565,140) scale(1,1.035)">RhB<tspan dy="5">_</tspan><tspan dy="-5" dx="-2">0</tspan></text>
<text transform="translate(1565,225.8) scale(1,1.035)">TiO<tspan font-size="47" dy="18">2</tspan><tspan dy="-18"> (Reference)</tspan></text>
<text transform="translate(1565,327) scale(1,1.035)">TiO<tspan font-size="47" dy="18">2</tspan><tspan dy="-18">:FeCl</tspan><tspan font-size="47" dy="18">3</tspan><tspan dy="-18"> (3:1)</tspan></text>
<text transform="translate(1565,427.7) scale(1,1.035)">TiO<tspan font-size="47" dy="18">2</tspan><tspan dy="-18">:FeCl</tspan><tspan font-size="47" dy="18">3</tspan><tspan dy="-18"> (1:1)</tspan></text>
<text transform="translate(1565,528.7) scale(1,1.035)">TiO<tspan font-size="47" dy="18">2</tspan><tspan dy="-18">:FeCl</tspan><tspan font-size="47" dy="18">3</tspan><tspan dy="-18"> (1:1.6)</tspan></text>
<text transform="translate(1565,629.7) scale(1,1.035)">TiO<tspan font-size="47" dy="18">2</tspan><tspan dy="-18">:FeCl</tspan><tspan font-size="47" dy="18">3</tspan><tspan dy="-18"> (1:3)</tspan></text>
<text transform="translate(1565,731.5) scale(1,1.035)">TiO<tspan font-size="47" dy="18">2</tspan><tspan dy="-18">:FeCl</tspan><tspan font-size="47" dy="18">3</tspan><tspan dy="-18"> (1:4.5)</tspan></text>
</g>
</g>
</svg></body></html>
